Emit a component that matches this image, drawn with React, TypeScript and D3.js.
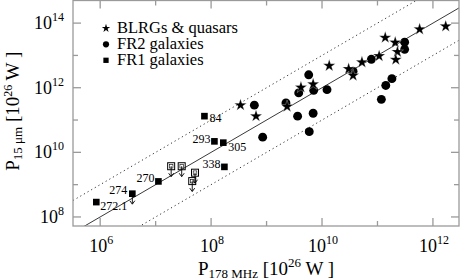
import React, { useEffect, useRef } from 'react';
import * as d3 from 'd3';

// all values are log10 of the powers (units of 1e26 W)
const blrgLogP178 = [8.53, 8.81, 9.37, 9.62, 9.84, 10.13, 10.48, 10.56, 10.72, 11.03, 11.14, 11.32, 11.36, 11.33, 11.76, 12.23];
const blrgLogP15 = [11.46, 11.12, 11.42, 12.01, 12.11, 12.68, 12.58, 12.38, 12.79, 12.98, 13.55, 13.4, 13.11, 12.87, 13.81, 13.9];

const fr2LogP178 = [8.78, 8.93, 9.35, 9.56, 9.58, 9.76, 9.85, 10.09, 9.84, 9.77, 10.56, 10.89, 11.49, 11.49, 11.26, 11.15, 11.07];
const fr2LogP15 = [11.46, 10.47, 11.53, 11.12, 11.84, 12.4, 11.92, 11.94, 11.21, 10.64, 12.51, 12.88, 13.41, 13.19, 12.28, 12.07, 11.64];

const fr1Names = ['272.1', '274', '270', '', '', '', '', '338', '305', '293', '84'];
const fr1LogP178 = [5.93, 6.58, 7.05, 7.28, 7.47, 7.71, 7.66, 8.24, 8.22, 8.06, 7.88];
const fr1LogP15 = [8.46, 8.72, 9.1, 9.57, 9.57, 9.37, 9.11, 9.55, 10.3, 10.34, 11.12];
const fr1UpperLimit = [false, true, false, true, true, true, true, false, false, false, false];
const fr1Open = [false, false, false, true, true, true, true, false, false, false, false];

// P15 = 10^k * P178
const ratioLines = [1, 2, 3];

const xTickExps = [6, 7, 8, 9, 10, 11, 12];
const yTickExps = [8, 9, 10, 11, 12, 13, 14];

const legendLabels = ['BLRGs & quasars', 'FR2 galaxies', 'FR1 galaxies'];

// where each FR1 name sits relative to its square: dx, dy, anchor
const labelPlace: Record<string, [number, number, string]> = {
  '272.1': [4, 8, 'start'],
  '274': [-5, 0, 'end'],
  '270': [-4, 1, 'end'],
  '338': [-4, 1, 'end'],
  '305': [5, 8, 'start'],
  '293': [-4, 1.5, 'end'],
  '84': [5, 6, 'start'],
};

const W = 460, H = 280;
const left = 73, right = 459, top = 0.5, bottom = 226;
const serif = '"Liberation Serif", "Times New Roman", Times, serif';
const frame = '#9a9a9a';

function App() {
  const ref = useRef<SVGSVGElement>(null);

  useEffect(() => {
    const svg = d3.select(ref.current);
    svg.selectAll('*').remove();

    const x = d3.scaleLog().domain([10 ** 5.51, 10 ** 12.47]).range([left, right]);
    const y = d3.scaleLog().domain([10 ** 7.72, 10 ** 14.7]).range([bottom, top]);

    svg.append('defs').append('clipPath').attr('id', 'plotclip')
      .append('rect')
      .attr('x', left).attr('y', top)
      .attr('width', right - left).attr('height', bottom - top);

    // ratio lines
    const lines = svg.append('g').attr('clip-path', 'url(#plotclip)');
    ratioLines.forEach(k => {
      const [d0, d1] = x.domain();
      lines.append('line')
        .attr('x1', x(d0)).attr('y1', y(d0 * 10 ** k))
        .attr('x2', x(d1)).attr('y2', y(d1 * 10 ** k))
        .attr('stroke', k === 2 ? '#222' : '#333')
        .attr('stroke-width', k === 2 ? 0.9 : 1)
        .attr('stroke-dasharray', k === 2 ? null : '1.2,3');
    });

    // frame + ticks
    svg.append('rect')
      .attr('x', left).attr('y', top)
      .attr('width', right - left).attr('height', bottom - top)
      .attr('fill', 'none').attr('stroke', frame).attr('stroke-width', 1.3);

    const ticks = svg.append('g').attr('stroke', frame).attr('stroke-width', 1.3);
    xTickExps.forEach(e => {
      const len = e % 2 === 0 ? 8 : 5;
      const px = x(10 ** e);
      ticks.append('line').attr('x1', px).attr('x2', px).attr('y1', bottom).attr('y2', bottom - len);
      ticks.append('line').attr('x1', px).attr('x2', px).attr('y1', top).attr('y2', top + len);
    });
    yTickExps.forEach(e => {
      const len = e % 2 === 0 ? 8 : 5;
      const py = y(10 ** e);
      ticks.append('line').attr('x1', left).attr('x2', left + len).attr('y1', py).attr('y2', py);
      ticks.append('line').attr('x1', right).attr('x2', right - len).attr('y1', py).attr('y2', py);
    });

    // tick labels
    xTickExps.filter(e => e % 2 === 0).forEach(e => {
      const t = svg.append('text')
        .attr('x', x(10 ** e) + 1).attr('y', 252)
        .attr('text-anchor', 'middle')
        .style('font-family', serif).style('font-size', '18px');
      t.append('tspan').text('10');
      t.append('tspan').attr('dy', -8).style('font-size', '12px').text(String(e));
    });
    yTickExps.filter(e => e % 2 === 0).forEach(e => {
      const t = svg.append('text')
        .attr('x', 64).attr('y', y(10 ** e) + 6)
        .attr('text-anchor', 'end')
        .style('font-family', serif).style('font-size', '18px');
      t.append('tspan').text('10');
      t.append('tspan').attr('dy', -8).style('font-size', '12px').text(String(e));
    });

    // axis titles
    const xt = svg.append('text')
      .attr('x', (left + right) / 2).attr('y', 275)
      .attr('text-anchor', 'middle')
      .style('font-family', serif).style('font-size', '19px');
    xt.append('tspan').text('P');
    xt.append('tspan').attr('dy', 3).style('font-size', '13px').text('178 MHz');
    xt.append('tspan').attr('dy', -3).text(' [10');
    xt.append('tspan').attr('dy', -8).style('font-size', '13px').text('26');
    xt.append('tspan').attr('dy', 8).text(' W ]');

    const yt = svg.append('text')
      .attr('transform', `translate(19,${(top + bottom) / 2 - 2}) rotate(-90)`)
      .attr('text-anchor', 'middle')
      .style('font-family', serif).style('font-size', '19px');
    yt.append('tspan').text('P');
    yt.append('tspan').attr('dy', 3).style('font-size', '13px').text('15 μm');
    yt.append('tspan').attr('dy', -3).text(' [10');
    yt.append('tspan').attr('dy', -7).style('font-size', '12px').text('26');
    yt.append('tspan').attr('dy', 7).text(' W ]');

    const star = d3.symbol().type(d3.symbolStar);
    const circle = d3.symbol().type(d3.symbolCircle);
    const square = d3.symbol().type(d3.symbolSquare);

    const pts = svg.append('g');

    // FR2 circles
    fr2LogP178.forEach((lx, i) => {
      pts.append('path')
        .attr('d', circle.size(62)())
        .attr('transform', `translate(${x(10 ** lx)},${y(10 ** fr2LogP15[i])})`)
        .attr('fill', '#000');
    });

    // BLRG / quasar stars
    blrgLogP178.forEach((lx, i) => {
      pts.append('path')
        .attr('d', star.size(46)())
        .attr('transform', `translate(${x(10 ** lx)},${y(10 ** blrgLogP15[i])})`)
        .attr('fill', '#000')
        .attr('stroke', '#fff').attr('stroke-width', 0.3);
    });

    // FR1 squares
    fr1LogP178.forEach((lx, i) => {
      const cx = x(10 ** lx), cy = y(10 ** fr1LogP15[i]);
      const g = pts.append('g').attr('transform', `translate(${cx},${cy})`);
      if (fr1UpperLimit[i]) {
        g.append('line').attr('x1', 0).attr('x2', 0).attr('y1', 0).attr('y2', 10)
          .attr('stroke', '#000').attr('stroke-width', 0.9);
        g.append('path').attr('d', 'M-2.5,7 L0,10.5 L2.5,7')
          .attr('fill', 'none').attr('stroke', '#000').attr('stroke-width', 0.9);
      }
      if (fr1Open[i]) {
        g.append('rect').attr('x', -3.5).attr('y', -3.5).attr('width', 7).attr('height', 7)
          .attr('fill', 'none').attr('stroke', '#000').attr('stroke-width', 1);
        g.append('rect').attr('x', -1.8).attr('y', -1.8).attr('width', 3.6).attr('height', 3.6)
          .attr('fill', 'none').attr('stroke', '#000').attr('stroke-width', 0.6);
      } else {
        g.append('path').attr('d', square.size(44)()).attr('fill', '#000');
      }
      const name = fr1Names[i];
      if (name) {
        const [dx, dy, anchor] = labelPlace[name];
        svg.append('text')
          .attr('x', cx + dx).attr('y', cy + dy)
          .attr('text-anchor', anchor)
          .style('font-family', serif).style('font-size', '12px')
          .text(name);
      }
    });

    // legend
    const legendSymbols = [star.size(22)(), circle.size(30)(), square.size(28)()];
    legendLabels.forEach((label, i) => {
      const base = 33.3 + i * 16;
      svg.append('path').attr('d', legendSymbols[i])
        .attr('transform', `translate(106,${base - 5})`).attr('fill', '#000');
      svg.append('text')
        .attr('x', 117).attr('y', base)
        .style('font-family', serif).style('font-size', '16.5px')
        .text(label);
    });
  }, []);

  return (
    <svg ref={ref} width={W} height={H}
      style={{ position: 'absolute', left: 0, top: 0, background: '#fff' }} />
  );
}

export default App;
